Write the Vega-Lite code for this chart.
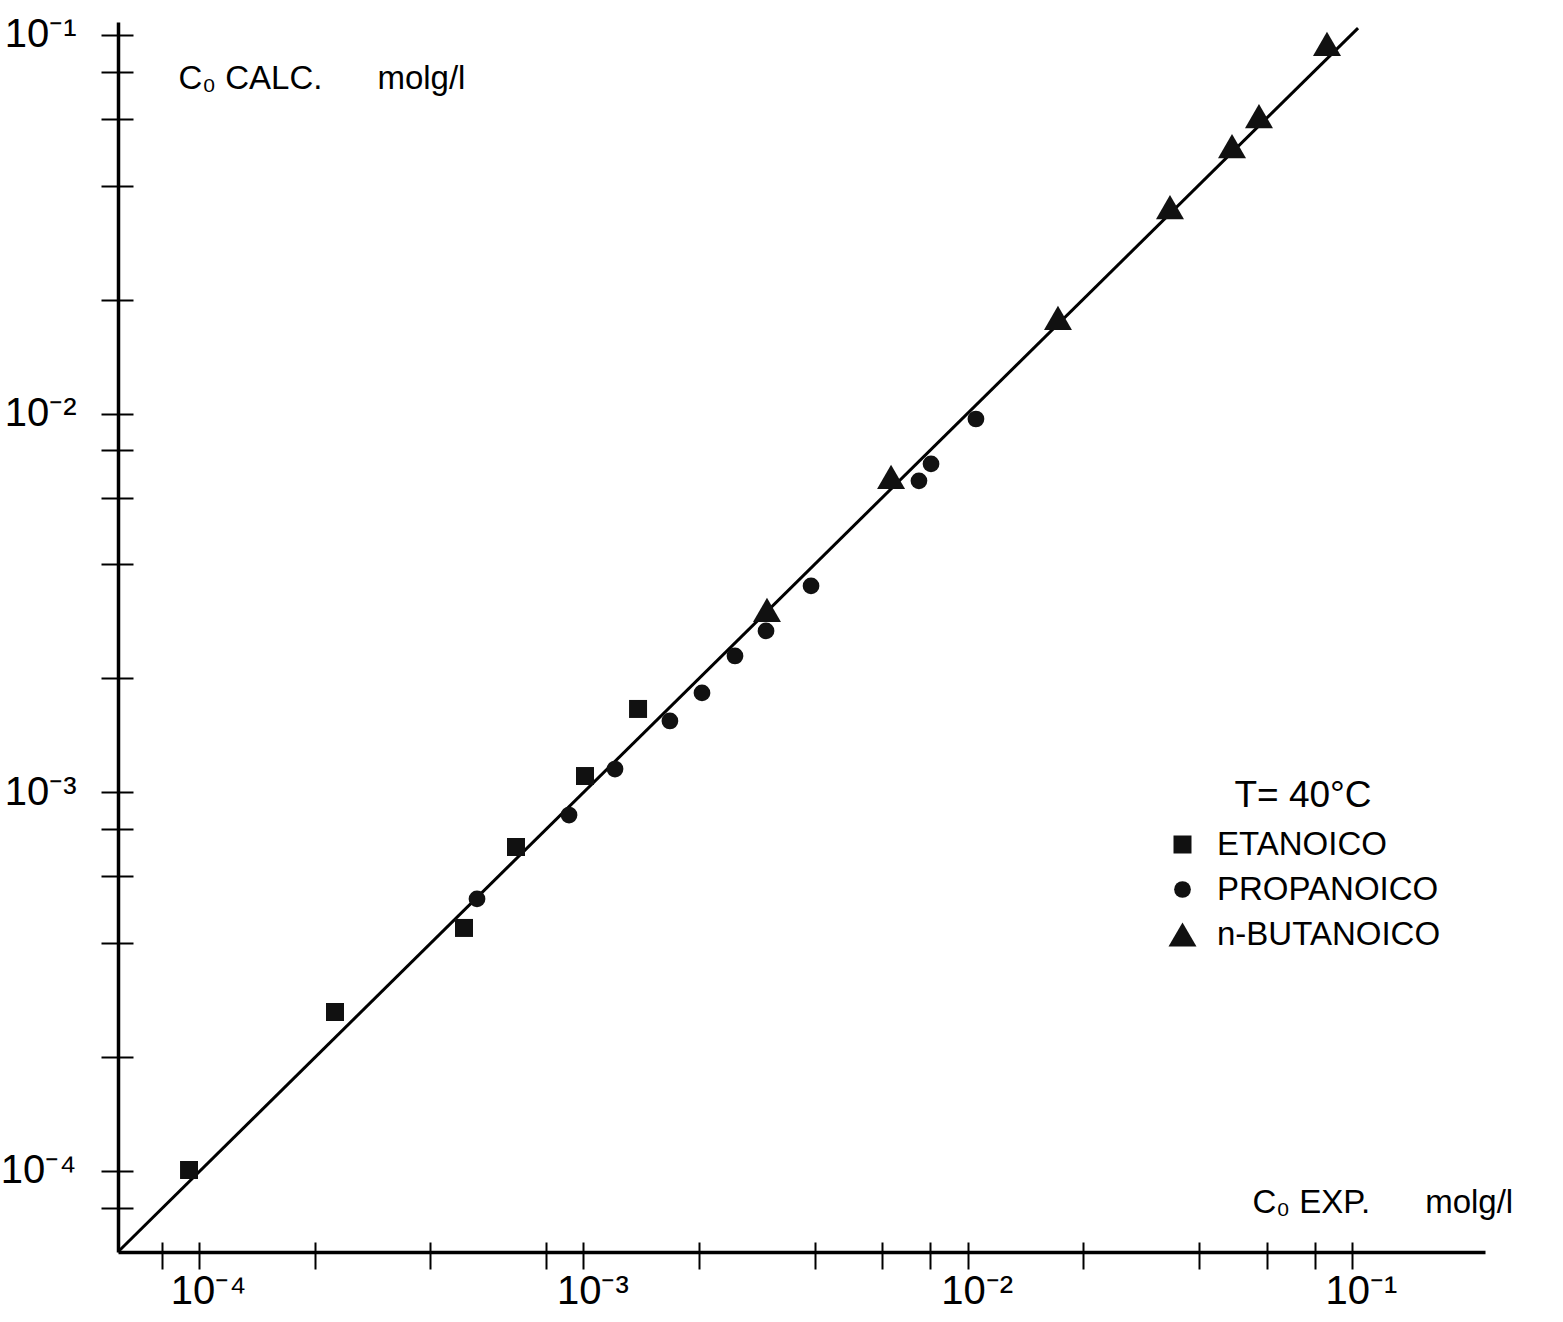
{
  "$schema": "https://vega.github.io/schema/vega-lite/v6.json",
  "width": 1367,
  "height": 1230,
  "autosize": "none",
  "padding": {"left": 118, "top": 22, "right": 78, "bottom": 70},
  "background": "white",
  "config": {
    "view": {"stroke": null},
    "font": "Liberation Sans"
  },
  "datasets": {
    "fit": [
      {"exp": 0.0000616, "calc": 0.0000612},
      {"exp": 0.1037, "calc": 0.1043}
    ],
    "points": [
      {"acid": "ETANOICO", "exp": 0.0000942, "calc": 0.0001006},
      {"acid": "ETANOICO", "exp": 0.0002259, "calc": 0.0002629},
      {"acid": "ETANOICO", "exp": 0.0004893, "calc": 0.0004383},
      {"acid": "ETANOICO", "exp": 0.000668, "calc": 0.000717},
      {"acid": "ETANOICO", "exp": 0.00101, "calc": 0.001104},
      {"acid": "ETANOICO", "exp": 0.001388, "calc": 0.00166},
      {"acid": "PROPANOICO", "exp": 0.0005289, "calc": 0.0005229},
      {"acid": "PROPANOICO", "exp": 0.000918, "calc": 0.000871},
      {"acid": "PROPANOICO", "exp": 0.001209, "calc": 0.001152},
      {"acid": "PROPANOICO", "exp": 0.00168, "calc": 0.001543},
      {"acid": "PROPANOICO", "exp": 0.002036, "calc": 0.00183},
      {"acid": "PROPANOICO", "exp": 0.002481, "calc": 0.002291},
      {"acid": "PROPANOICO", "exp": 0.002988, "calc": 0.002668},
      {"acid": "PROPANOICO", "exp": 0.003913, "calc": 0.003507},
      {"acid": "PROPANOICO", "exp": 0.00747, "calc": 0.006645},
      {"acid": "PROPANOICO", "exp": 0.00803, "calc": 0.007365},
      {"acid": "PROPANOICO", "exp": 0.01051, "calc": 0.00968},
      {"acid": "n-BUTANOICO", "exp": 0.003005, "calc": 0.003031},
      {"acid": "n-BUTANOICO", "exp": 0.00632, "calc": 0.006807},
      {"acid": "n-BUTANOICO", "exp": 0.01718, "calc": 0.01789},
      {"acid": "n-BUTANOICO", "exp": 0.03361, "calc": 0.03513},
      {"acid": "n-BUTANOICO", "exp": 0.04874, "calc": 0.05089},
      {"acid": "n-BUTANOICO", "exp": 0.05728, "calc": 0.0611},
      {"acid": "n-BUTANOICO", "exp": 0.0861, "calc": 0.0947}
    ]
  },
  "encoding": {
    "x": {
      "field": "exp",
      "type": "quantitative",
      "scale": {"type": "log", "domain": [0.00006155, 0.2219], "nice": false, "zero": false},
      "axis": {
        "values": [0.00008, 0.0001, 0.0002, 0.0004, 0.0008, 0.001, 0.002, 0.004, 0.006, 0.008, 0.01, 0.02, 0.04, 0.06, 0.08, 0.1],
        "labelExpr": "datum.value == 0.0001 ? '10⁻⁴' : datum.value == 0.001 ? '10⁻³' : datum.value == 0.01 ? '10⁻²' : datum.value == 0.1 ? '10⁻¹' : ''",
        "labelOverlap": false,
        "labelFlush": false,
        "labelBound": false,
        "labelFont": "Liberation Sans",
        "labelFontSize": 40,
        "labelColor": "#000",
        "labelPadding": 2,
        "labelOffset": 9,
        "tickSize": 17,
        "tickWidth": 2,
        "tickColor": "#000",
        "domainColor": "#000",
        "domainWidth": 3.5,
        "grid": true,
        "gridColor": "#000",
        "gridWidth": 2,
        "gridOpacity": 1,
        "gridDash": [0, 1220, 10, 3000],
        "title": "C₀ EXP.\u00a0\u00a0\u00a0\u00a0\u00a0 molg/l",
        "titleX": 1134,
        "titleY": -40,
        "titleAngle": 0,
        "titleAlign": "left",
        "titleBaseline": "alphabetic",
        "titleFont": "Liberation Sans",
        "titleFontSize": 33,
        "titleFontWeight": "normal",
        "titleColor": "#000",
        "titleLimit": 0
      }
    },
    "y": {
      "field": "calc",
      "type": "quantitative",
      "scale": {"type": "log", "domain": [0.00006109, 0.10822], "nice": false, "zero": false},
      "axis": {
        "values": [0.00008, 0.0001, 0.0002, 0.0004, 0.0006, 0.0008, 0.001, 0.002, 0.004, 0.006, 0.008, 0.01, 0.02, 0.04, 0.06, 0.08, 0.1],
        "labelExpr": "datum.value == 0.0001 ? '10⁻⁴' : datum.value == 0.001 ? '10⁻³' : datum.value == 0.01 ? '10⁻²' : datum.value == 0.1 ? '10⁻¹' : ''",
        "labelOverlap": false,
        "labelFlush": false,
        "labelBound": false,
        "labelFont": "Liberation Sans",
        "labelFontSize": 40,
        "labelColor": "#000",
        "labelPadding": 25,
        "tickSize": 17,
        "tickWidth": 2,
        "tickColor": "#000",
        "domainColor": "#000",
        "domainWidth": 3.5,
        "grid": true,
        "gridColor": "#000",
        "gridWidth": 2,
        "gridOpacity": 1,
        "gridDash": [15, 3000],
        "title": "C₀ CALC.\u00a0\u00a0\u00a0\u00a0\u00a0 molg/l",
        "titleX": 60,
        "titleY": 66,
        "titleAngle": 0,
        "titleAlign": "left",
        "titleBaseline": "alphabetic",
        "titleFont": "Liberation Sans",
        "titleFontSize": 33,
        "titleFontWeight": "normal",
        "titleColor": "#000",
        "titleLimit": 0
      }
    }
  },
  "layer": [
    {
      "data": {"name": "fit"},
      "mark": {"type": "line", "color": "#000", "strokeWidth": 3}
    },
    {
      "data": {"name": "points"},
      "mark": {"type": "point", "filled": true, "color": "#111", "opacity": 1, "strokeWidth": 0},
      "encoding": {
        "shape": {
          "field": "acid",
          "type": "nominal",
          "scale": {"domain": ["ETANOICO", "PROPANOICO", "n-BUTANOICO"], "range": ["square", "circle", "triangle-up"]},
          "legend": {
            "orient": "none", "legendX": 1048, "legendY": 756, "padding": 0,
            "title": "T= 40°C", "titleFontSize": 37, "titleFontWeight": "normal", "titleAnchor": "middle", "titleColor": "#000", "titlePadding": 13, "titleFont": "Liberation Sans",
            "labelFontSize": 33, "labelOffset": 18, "labelColor": "#000", "labelFont": "Liberation Sans", "labelLimit": 0,
            "rowPadding": 11, "symbolFillColor": "#111", "symbolStrokeWidth": 0, "symbolOpacity": 1
          }
        },
        "size": {
          "field": "acid",
          "type": "nominal",
          "scale": {"type": "ordinal", "domain": ["ETANOICO", "PROPANOICO", "n-BUTANOICO"], "range": [324, 280, 784]},
          "legend": {
            "orient": "none", "legendX": 1048, "legendY": 756, "padding": 0,
            "title": "T= 40°C", "titleFontSize": 37, "titleFontWeight": "normal", "titleAnchor": "middle", "titleColor": "#000", "titlePadding": 13, "titleFont": "Liberation Sans",
            "labelFontSize": 33, "labelOffset": 18, "labelColor": "#000", "labelFont": "Liberation Sans", "labelLimit": 0,
            "rowPadding": 11, "symbolFillColor": "#111", "symbolStrokeWidth": 0, "symbolOpacity": 1
          }
        }
      }
    }
  ]
}
